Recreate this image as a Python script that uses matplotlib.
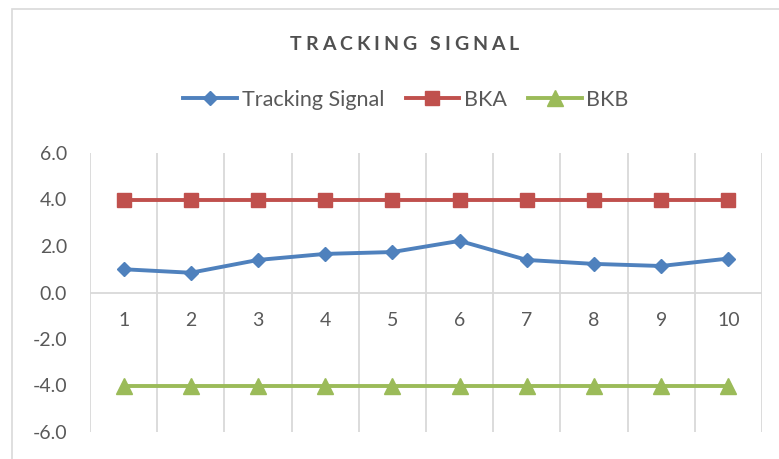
import matplotlib
matplotlib.use("Agg")
import matplotlib.pyplot as plt
from matplotlib.patches import Rectangle
import numpy as np

categories = ["1", "2", "3", "4", "5", "6", "7", "8", "9", "10"]
tracking_signal = [1.00, 0.85, 1.40, 1.66, 1.74, 2.22, 1.40, 1.23, 1.14, 1.46]
bka = [4.0] * 10
bkb = [-4.0] * 10
yticks = [-6.0, -4.0, -2.0, 0.0, 2.0, 4.0, 6.0]

plt.rcParams['font.family'] = ['Lato', 'DejaVu Sans']
W, H = 779, 459
fig = plt.figure(figsize=(W / 100, H / 100), dpi=100)
fig.patch.set_facecolor('white')

# outer chart frame
fig.patches.append(Rectangle((12 / W, -0.2), 1.2, 1.2 - 9 / H,
                             transform=fig.transFigure, fill=False,
                             edgecolor='#d9d9d9', linewidth=1.2))

ax = fig.add_axes([90 / W, 1 - 432 / H, (762 - 90) / W, (432 - 153) / H])
x = np.arange(1, len(categories) + 1)
grid_c = '#d9d9d9'
text_c = '#595959'
fs = 14

for b in np.arange(0.5, len(categories) + 1, 1.0):
    ax.axvline(b, color=grid_c, linewidth=1.3, zorder=1)
ax.axhline(0, color=grid_c, linewidth=1.3, zorder=1)

l1, = ax.plot(x, tracking_signal, color='#4F81BD', linewidth=2.8, marker='D',
              markersize=7.5, label='Tracking Signal', zorder=3)
l2, = ax.plot(x, bka, color='#C0504D', linewidth=2.8, marker='s',
              markersize=10, label='BKA', zorder=3)
l3, = ax.plot(x, bkb, color='#9BBB59', linewidth=2.8, marker='^',
              markersize=11, label='BKB', zorder=3)

ax.set_xlim(0.5, len(categories) + 0.5)
ax.set_ylim(-6, 6)
ax.set_yticks(yticks)
ax.set_yticklabels([f"{v:.1f}" for v in yticks])
ax.tick_params(axis='y', length=0, pad=16.5, labelsize=fs, labelcolor=text_c)
ax.set_xticks([])
for s in ax.spines.values():
    s.set_visible(False)

for xi, lab in zip(x, categories):
    ax.annotate(lab, (xi, 0), xytext=(0, -28 * 0.72), textcoords='offset points',
                ha='center', va='center', fontsize=fs, color=text_c)

# title with letter spacing
title = "TRACKING SIGNAL"
fig.canvas.draw()
r = fig.canvas.get_renderer()
widths = []
for ch in title:
    t = fig.text(0, 0, ch if ch != ' ' else 'I', fontsize=fs, fontweight='bold')
    bb = t.get_window_extent(r)
    widths.append(bb.width)
    t.remove()
target_w = 229.0
spacing = (target_w - sum(widths)) / (len(title) - 1)
xpos = 290.0
for ch, w in zip(title, widths):
    if ch != ' ':
        fig.text(xpos / W, 1 - 45 / H, ch, fontsize=fs, fontweight='bold',
                 color='#505050', ha='left', va='center')
    xpos += w + spacing

fig.legend(handles=[l1, l2, l3], loc='center', bbox_to_anchor=(406 / W, 1 - 100 / H),
           ncol=3, frameon=False, fontsize=15.5, handlelength=2.5,
           handletextpad=0.2, columnspacing=1.0, labelcolor=text_c)

fig.savefig('out.png', dpi=100, facecolor='white')
